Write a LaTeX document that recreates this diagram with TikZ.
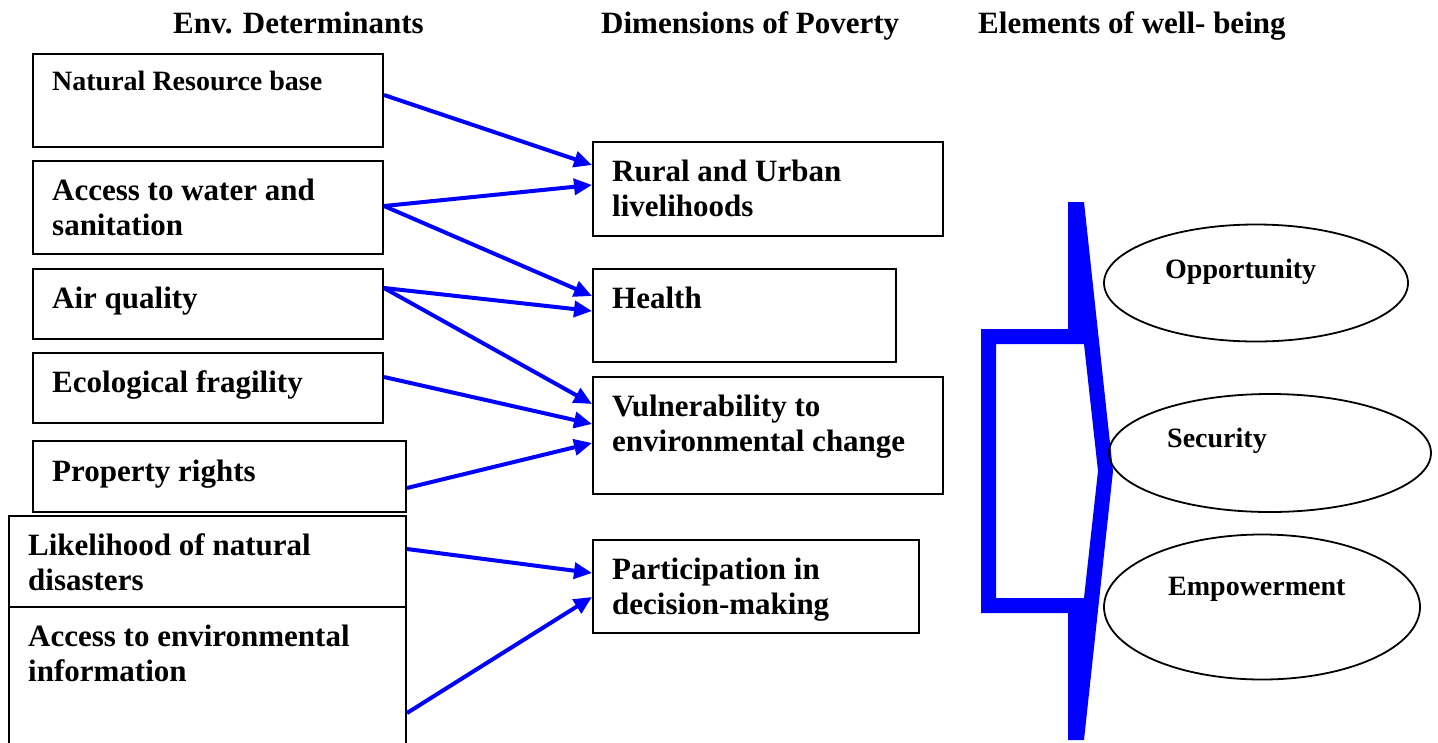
\documentclass[tikz,border=0pt]{standalone}
\usepackage{fontspec}
\setmainfont{Liberation Serif}
\usetikzlibrary{arrows.meta,shapes.geometric}
\begin{document}
\begin{tikzpicture}[x=1pt,y=-1pt,
  box/.style={draw,line width=2pt,anchor=north west,inner sep=0pt},
  txt/.style={anchor=base west,align=left,inner sep=0pt,font=\fontsize{31}{35}\selectfont\bfseries},
  small/.style={font=\fontsize{28}{32}\selectfont\bfseries},
  oval/.style={draw,ellipse,line width=1.8pt,inner sep=0pt},
  link/.style={blue,line width=4pt,-{Triangle[length=18pt,width=16pt]}}]
\clip (0,0) rectangle (1438,742);
\node[txt] (h1) at (173,33) {Env. Determinants};
\node[txt] (h2) at (601,33) {Dimensions of Poverty};
\node[txt] (h3) at (978,33) {Elements of well- being};
\node[box,minimum width=350,minimum height=93] (nat) at (32,53) {};
\node[box,minimum width=350,minimum height=93] (wat) at (32,160) {};
\node[box,minimum width=350,minimum height=70] (air) at (32,268) {};
\node[box,minimum width=350,minimum height=70] (eco) at (32,352) {};
\node[box,minimum width=373,minimum height=71] (pro) at (32,440) {};
\node[box,minimum width=397,minimum height=91] (lik) at (8,515) {};
\node[box,minimum width=397,minimum height=212] (inf) at (8,606) {};
\node[txt,small] (natt) at (52,90) {Natural Resource base};
\node[txt] (watt) at (52,235) {Access to water and\\sanitation};
\node[txt] (airt) at (52,308) {Air quality};
\node[txt] (ecot) at (52,392) {Ecological fragility};
\node[txt] (prot) at (52,481) {Property rights};
\node[txt] (likt) at (28,590) {Likelihood of natural\\disasters};
\node[txt] (inft) at (28,681) {Access to environmental\\information};
\node[box,minimum width=350,minimum height=94] (rur) at (592,141) {};
\node[box,minimum width=303,minimum height=93] (hea) at (592,268) {};
\node[box,minimum width=350,minimum height=117] (vul) at (592,376) {};
\node[box,minimum width=326,minimum height=93] (par) at (592,539) {};
\node[txt] (rurt) at (612,216) {Rural and Urban\\livelihoods};
\node[txt] (heat) at (612,308) {Health};
\node[txt] (vult) at (612,451) {Vulnerability to\\environmental change};
\node[txt] (part) at (612,614) {Participation in\\decision-making};
\draw[link] ([yshift=5.5pt]nat.east) -- ([yshift=24pt]rur.west);
\draw[link] ([yshift=1.5pt]wat.east) -- ([yshift=4pt]rur.west);
\draw[link] ([yshift=1.5pt]wat.east) -- ([yshift=19.5pt]hea.west);
\draw[link] ([yshift=16pt]air.east) -- ([yshift=4.5pt]hea.west);
\draw[link] ([yshift=16pt]air.east) -- ([yshift=31.5pt]vul.west);
\draw[link] ([yshift=11pt]eco.east) -- ([yshift=11.5pt]vul.west);
\draw[link] ([yshift=-11.5pt]pro.east) -- ([yshift=-7.5pt]vul.west);
\draw[link] ([yshift=12.5pt]lik.east) -- ([yshift=13.5pt]par.west);
\draw[link] (inf.east) -- ([yshift=-10.5pt]par.west);
\fill[blue,even odd rule] (1068,202) -- (1084,202) -- (1113,471) -- (1084,740) -- (1068,740)
  -- (1068,613) -- (981,613) -- (981,329) -- (1068,329) -- cycle
  (996,344) -- (1084,344) -- (1098,471) -- (1084,598) -- (996,598) -- cycle;
\node[oval,minimum width=304,minimum height=117] (opp) at (1256,283) {};
\node[oval,minimum width=322,minimum height=118] (sec) at (1270,453) {};
\node[oval,minimum width=316,minimum height=145] (emp) at (1262,607) {};
\node[txt,small] (oppt) at (1165,278) {Opportunity};
\node[txt,small] (sect) at (1167,447) {Security};
\node[txt,small] (empt) at (1168,595) {Empowerment};
\end{tikzpicture}
\end{document}
